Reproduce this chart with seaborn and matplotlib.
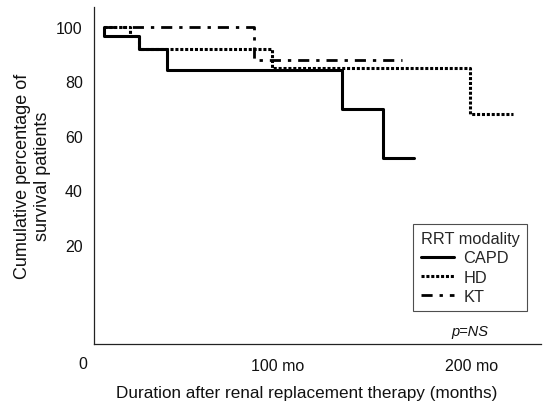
import numpy as np
import pandas as pd
import seaborn as sns
import matplotlib.pyplot as plt
import matplotlib.transforms as mtransforms

# Kaplan-Meier style step data (months, % surviving)
capd_months = [11, 11, 29, 43, 133, 154, 170]
capd_surv = [100, 96.7, 92, 84.3, 70, 52, 52]
hd_months = [11, 24, 29, 97, 199, 221]
hd_surv = [100, 96.7, 92, 85, 68, 68]
kt_months = [11, 88, 164]
kt_surv = [100, 88, 88]

groups = ["CAPD", "HD", "KT"]
y_ticks = [20, 40, 60, 80, 100]
x_ticks = [100, 200]
x_ticklabels = ["100 mo", "200 mo"]


def make_df(name, t, s):
    return pd.DataFrame({"months": t, "surv": s, "group": name})


df = pd.concat([make_df("CAPD", capd_months, capd_surv),
                make_df("HD", hd_months, hd_surv),
                make_df("KT", kt_months, kt_surv)], ignore_index=True)

sns.set_style("white")
plt.rcParams['font.family'] = ['Liberation Sans', 'DejaVu Sans']

styles = {
    "CAPD": dict(linestyle="-", linewidth=2.2),
    "HD": dict(linestyle=(0, (1.0, 0.6)), linewidth=2.2),
    "KT": dict(linestyle=(0, (4, 2.5, 1.2, 2.5)), linewidth=2.0),
}
txt = "#111111"

fig = plt.figure(figsize=(5.43, 4.02), dpi=100)
ax = fig.add_axes([0.173, 0.142, 0.823, 0.838])

for g in groups:
    sub = df[df["group"] == g]
    sns.lineplot(data=sub, x="months", y="surv", ax=ax, color="black",
                 estimator=None, sort=False, drawstyle="steps-post",
                 label=g, **styles[g])

ax.set_xlim(5.6, 235.4)
ax.set_ylim(-16.3, 107.3)
ax.set_yticks(y_ticks)
ax.set_xticks(x_ticks)
ax.set_xticklabels(x_ticklabels)
ax.tick_params(axis="both", length=0, labelsize=11.5, colors=txt)
ax.tick_params(axis="x", pad=10)
ax.tick_params(axis="y", pad=8)

# the "0" label sits left of the y axis in the original
trans = mtransforms.blended_transform_factory(ax.transData, ax.transAxes)
ax.text(0, -0.059, "0", transform=trans, ha="center", va="center",
        fontsize=11.5, color=txt, clip_on=False)

for side in ["top", "right"]:
    ax.spines[side].set_visible(False)
for side in ["left", "bottom"]:
    ax.spines[side].set_color("#222222")
    ax.spines[side].set_linewidth(0.9)

ax.set_xlabel("Duration after renal replacement therapy (months)",
              fontsize=12.3, color=txt)
ax.xaxis.set_label_coords(0.477, -0.122)
ax.set_ylabel("Cumulative percentage of\nsurvival patients",
              fontsize=13, color=txt, linespacing=1.2)
ax.yaxis.set_label_coords(-0.096, 0.501)

leg = ax.legend(title="RRT modality", loc="upper right",
                bbox_to_anchor=(0.969, 0.356), borderaxespad=0,
                fancybox=False, edgecolor="#222222", fontsize=11.8,
                title_fontsize=11.8, handlelength=2.0, handletextpad=0.6,
                labelspacing=0.25, alignment="left", borderpad=0.45)
leg.get_frame().set_linewidth(0.8)

ax.text(0.841, 0.039, "p=NS", transform=ax.transAxes, ha="center",
        va="center", fontsize=10.5, style="italic", color=txt)

fig.savefig("out.png", dpi=100)
